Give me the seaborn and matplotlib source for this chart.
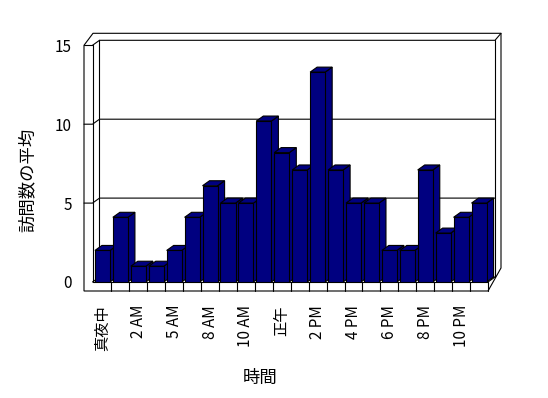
import matplotlib
matplotlib.use("Agg")
import matplotlib.pyplot as plt
import seaborn as sns
import pandas as pd
from matplotlib.patches import Polygon, Rectangle
from matplotlib.lines import Line2D
from matplotlib.transforms import Affine2D

# ---- data ----
hours = ['真夜中', '1 AM', '2 AM', '3 AM', '5 AM', '6 AM', '8 AM', '9 AM',
         '10 AM', '11 AM', '正午', '1 PM', '2 PM', '3 PM', '4 PM', '5 PM',
         '6 PM', '7 PM', '8 PM', '9 PM', '10 PM', '11 PM']
visits = [2, 4.1, 1, 1, 2, 4.1, 6.1, 5, 5, 10.2, 8.2, 7.1,
          13.3, 7.1, 5, 5, 2, 2, 7.1, 3.1, 4.1, 5]
y_ticks = [0, 5, 10, 15]
x_title = '時間'
y_title = '訪問数の平均'

sns.set_theme(style='white')
plt.rcParams['font.family'] = ['Noto Sans CJK JP', 'DejaVu Sans']

W, H = 548, 398
fig = plt.figure(figsize=(W / 100, H / 100), dpi=100)
fig.patch.set_facecolor('white')

# front plane geometry (image pixels, y downward)
FX0, FX1, FY0, FY15 = 93.5, 488.0, 282.0, 45.3
ax = fig.add_axes([FX0 / W, 1 - FY0 / H, (FX1 - FX0) / W, (FY0 - FY15) / H])
ax.patch.set_visible(False)

df = pd.DataFrame({x_title: hours, y_title: visits})
sns.barplot(data=df, x=x_title, y=y_title, order=hours, color='#000080',
            saturation=1, width=0.84, edgecolor='black', linewidth=0.8, ax=ax)
bars = [p for p in ax.patches if isinstance(p, Rectangle)]
ax.set_xlim(-0.5, len(hours) - 0.5)
ax.set_ylim(0, 15)
ax.grid(False)
for s in ax.spines.values():
    s.set_visible(False)

WL = FX0 - 9.5     # outer left of left wall
WI = FX0 - 1.0     # inner edge of left wall front face
FB = 291.0         # floor bottom
DX, DY = 7.0, -5.0 # depth offset

ax.spines['left'].set_position(('outward', (FX0 - WL) * 0.72))
ax.spines['bottom'].set_position(('outward', (FB - FY0) * 0.72))
ax.set_yticks(y_ticks)
ax.set_yticklabels([str(t) for t in y_ticks])
ax.tick_params(axis='y', length=0, pad=12 * 0.72, labelsize=11, colors='black')
ax.set_xticks(range(0, len(hours), 2))
ax.set_xticklabels(hours[::2], rotation=90)
ax.tick_params(axis='x', length=0, pad=14 * 0.72, labelsize=11, colors='black')
ax.set_xlabel('')
ax.set_ylabel('')

P = Affine2D().scale(1, -1).translate(0, H)  # image px -> display


def d2p(x, y):
    X, Y = ax.transData.transform((x, y))
    return X, H - Y


def line(pts, z=0.6, lw=0.8):
    xs, ys = zip(*pts)
    ax.add_line(Line2D(xs, ys, transform=P, color='black', lw=lw,
                       clip_on=False, zorder=z))


top_f = d2p(0, 15)[1]
BI_L = WI + DX
BI_R = FX1 + DX
OUT_T = top_f + DY - 7
OUT_R = BI_R + 6

ax.add_patch(Polygon([(WL, FB), (WL, top_f), (WL + 9, OUT_T), (OUT_R, OUT_T),
                      (OUT_R, FY0 + DY - 9), (FX1, FB)], closed=True,
                     transform=P, facecolor='white', edgecolor='black',
                     lw=0.8, clip_on=False, zorder=0.5))
line([(WL, top_f), (WI, top_f), (WI, FY0)])
line([(WI, top_f), (BI_L, top_f + DY), (BI_L, FY0 + DY)])
line([(BI_L, top_f + DY), (BI_R, top_f + DY), (OUT_R, OUT_T)])
line([(BI_R, top_f + DY), (BI_R, FY0 + DY)])
line([(WI, FY0), (FX1, FY0), (FX1, FB)])
line([(WI, FY0), (BI_L, FY0 + DY), (BI_R, FY0 + DY), (FX1, FY0)])
for t in y_ticks[1:-1]:
    yf = d2p(0, t)[1]
    line([(WL, yf), (WI, yf), (BI_L, yf + DY), (BI_R, yf + DY)])
for k in range(1, len(hours)):
    xk = d2p(k - 0.5, 0)[0]
    line([(xk, FY0), (xk, FB)])

# 3D faces of bars
for i, p in enumerate(bars):
    x0, w, h = p.get_x(), p.get_width(), p.get_height()
    xl, yt = d2p(x0, h)
    xr, yb = d2p(x0 + w, 0)
    z = 3 + i * 0.01
    top = [(xl, yt), (xr, yt), (xr + DX, yt + DY), (xl + DX, yt + DY)]
    side = [(xr, yb), (xr, yt), (xr + DX, yt + DY), (xr + DX, yb + DY)]
    for poly in (side, top):
        ax.add_patch(Polygon(poly, closed=True, transform=P,
                             facecolor='#000080', edgecolor='black',
                             lw=0.8, clip_on=False, zorder=z))
    p.set_zorder(z + 0.005)

fig.text(28 / W, 1 - 180 / H, y_title, rotation=90, ha='center', va='center',
         fontsize=12.5, color='black')
fig.text(260 / W, 1 - 378 / H, x_title, ha='center', va='center',
         fontsize=12.5, color='black')

fig.savefig('out.png', dpi=100, facecolor='white')
